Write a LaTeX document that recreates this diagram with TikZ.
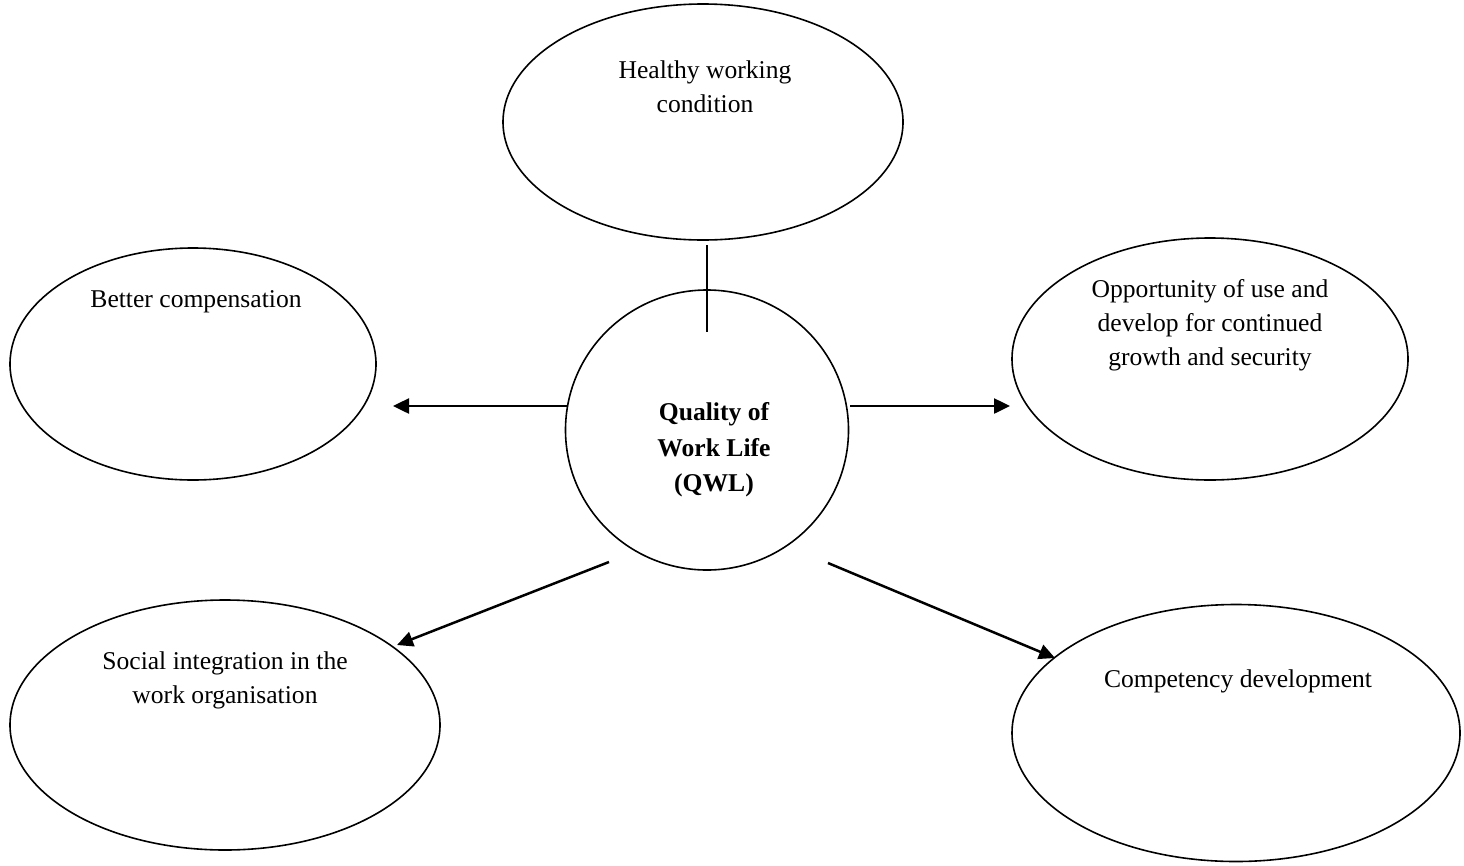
\documentclass[tikz,border=0pt]{standalone}
\usepackage{fontspec}
\setmainfont{Liberation Serif}
\usetikzlibrary{shapes.geometric,arrows.meta}
\begin{document}
\begin{tikzpicture}[x=1pt,y=-1pt,
  ell/.style={draw,ellipse,line width=1.6pt,inner sep=0pt},
  lbl/.style={align=center,font=\fontsize{25.6pt}{34pt}\selectfont},
  conn/.style={line width=2.5pt},
  arr/.style={conn,-{Triangle[length=16pt,width=15pt]}}]
\useasboundingbox (0,0) rectangle (1464,865);
\node[ell,minimum width=400pt,minimum height=236pt] (top) at (703,122) {};
\node[ell,minimum width=366pt,minimum height=232pt] (left) at (193,364) {};
\node[ell,minimum width=396pt,minimum height=242pt] (right) at (1210,359) {};
\node[ell,minimum width=283pt,minimum height=280pt] (q) at (707,430) {};
\node[ell,minimum width=430pt,minimum height=250pt] (bl) at (225,725) {};
\node[ell,minimum width=448pt,minimum height=257pt] (br) at (1236,733) {};
\node[lbl] (tt) at (705,87) {Healthy working\\condition};
\node[lbl] (lt) at (196,302) {Better compensation};
\node[lbl] (rt) at (1210,325) {Opportunity of use and\\develop for continued\\growth and security};
\node[lbl,font=\fontsize{25.6pt}{35.5pt}\selectfont\bfseries] (qt) at (714,450) {Quality of\\Work Life\\(QWL)};
\node[lbl] (blt) at (225,680) {Social integration in the\\work organisation};
\node[lbl] (brt) at (1238,681) {Competency development};
\coordinate (v1) at (707,245);
\coordinate (v2) at (707,332);
\coordinate (la) at (567,406);
\coordinate (lb) at (393,406);
\coordinate (ra) at (850,406);
\coordinate (rb) at (1010,406);
\coordinate (bla) at (609,562);
\coordinate (blb) at (397,645);
\coordinate (bra) at (828,563);
\coordinate (brb) at (1055,658);
\draw[conn] (v1) -- (v2);
\draw[arr] (la) -- (lb);
\draw[arr] (ra) -- (rb);
\draw[arr] (bla) -- (blb);
\draw[arr] (bra) -- (brb);
\end{tikzpicture}
\end{document}
